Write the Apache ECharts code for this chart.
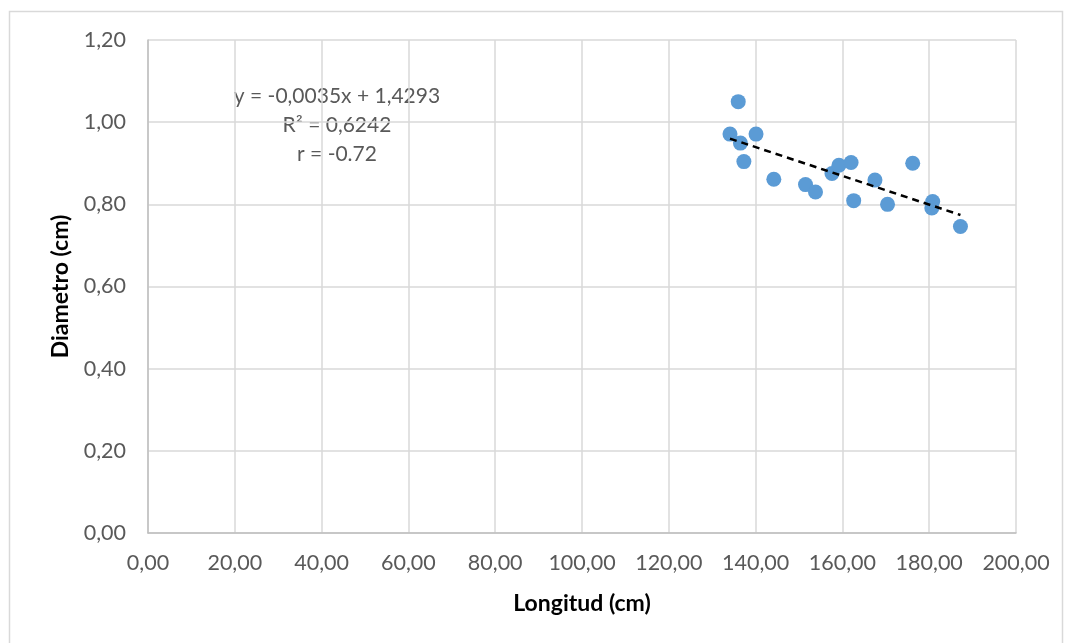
<!DOCTYPE html>
<html>
<head>
<meta charset="utf-8">
<script src="https://cdn.jsdelivr.net/npm/echarts@6/dist/echarts.min.js"></script>
<style>
html,body{margin:0;padding:0;background:#fff;}
#c{width:1065px;height:643px;}
</style>
</head>
<body>
<div id="c"></div>
<script>
var longitud = [136.0, 134.1, 136.5, 140.1, 137.3, 144.2, 151.5, 153.8, 157.6, 159.2, 162.0, 162.6, 167.5, 170.4, 176.2, 180.8, 180.6, 187.2];
var diametro = [1.050, 0.971, 0.949, 0.971, 0.904, 0.861, 0.848, 0.830, 0.875, 0.895, 0.902, 0.809, 0.859, 0.800, 0.900, 0.807, 0.791, 0.746];
var trendSlope = -0.0035;
var trendIntercept = 1.4293;
var trendX = [134.1, 187.2];
var annotations = ["y = -0,0035x + 1,4293", "R\u00b2 = 0,6242", "r = -0.72"];
var xTitle = "Longitud (cm)";
var yTitle = "Diametro (cm)";

var points = longitud.map(function (x, i) { return [x, diametro[i]]; });
var trend = trendX.map(function (x) { return [x, trendSlope * x + trendIntercept]; });
var FONT = 'Lato, "Open Sans", sans-serif';
function fmt(v, d) { return v.toFixed(d).replace('.', ','); }

var chart = echarts.init(document.getElementById('c'), null, { renderer: 'canvas' });
chart.setOption({
  animation: false,
  backgroundColor: '#fff',
  grid: { left: 148, right: 49, top: 40, bottom: 110 },
  xAxis: {
    type: 'value', min: 0, max: 200, interval: 20,
    name: xTitle, nameLocation: 'middle', nameGap: 59,
    nameTextStyle: { fontFamily: FONT, fontSize: 23, fontWeight: 'bold', color: '#000' },
    axisLine: { lineStyle: { color: '#bfbfbf', width: 1.5 } },
    axisTick: { show: false },
    axisLabel: { margin: 19, fontFamily: FONT, fontSize: 21.5, color: '#595959', formatter: function (v) { return fmt(v, 2); } },
    splitLine: { show: true, lineStyle: { color: '#d9d9d9', width: 1.5 } }
  },
  yAxis: {
    type: 'value', min: 0, max: 1.2, interval: 0.2,
    name: yTitle, nameLocation: 'middle', nameGap: 76, nameRotate: 90,
    nameTextStyle: { fontFamily: FONT, fontSize: 23, fontWeight: 'bold', color: '#000' },
    axisLine: { show: true, lineStyle: { color: '#bfbfbf', width: 1.5 } },
    axisTick: { show: false },
    axisLabel: { margin: 22, fontFamily: FONT, fontSize: 21.5, color: '#595959', formatter: function (v) { return fmt(v, 2); } },
    splitLine: { show: true, lineStyle: { color: '#d9d9d9', width: 1.5 } }
  },
  series: [
    {
      type: 'scatter', data: points, symbolSize: 15,
      itemStyle: { color: '#5B9BD5', opacity: 1 }, z: 2
    },
    {
      type: 'line', data: trend, symbol: 'none', silent: true,
      lineStyle: { color: '#000', width: 2.5, type: [7, 5] }, z: 3
    }
  ],
  graphic: [
    { type: 'rect', shape: { x: 9.5, y: 11.5, width: 1053, height: 700 }, style: { fill: 'none', stroke: '#d9d9d9', lineWidth: 1.5 }, silent: true },
    { type: 'text', x: 337, y: 96, style: { text: annotations[0], font: '21px ' + FONT, fill: '#595959', textAlign: 'center', textVerticalAlign: 'middle' } },
    { type: 'text', x: 337, y: 125, style: { text: annotations[1], font: '21px ' + FONT, fill: '#595959', textAlign: 'center', textVerticalAlign: 'middle' } },
    { type: 'text', x: 337, y: 154, style: { text: annotations[2], font: '21px ' + FONT, fill: '#595959', textAlign: 'center', textVerticalAlign: 'middle' } }
  ]
});
</script>
</body>
</html>
